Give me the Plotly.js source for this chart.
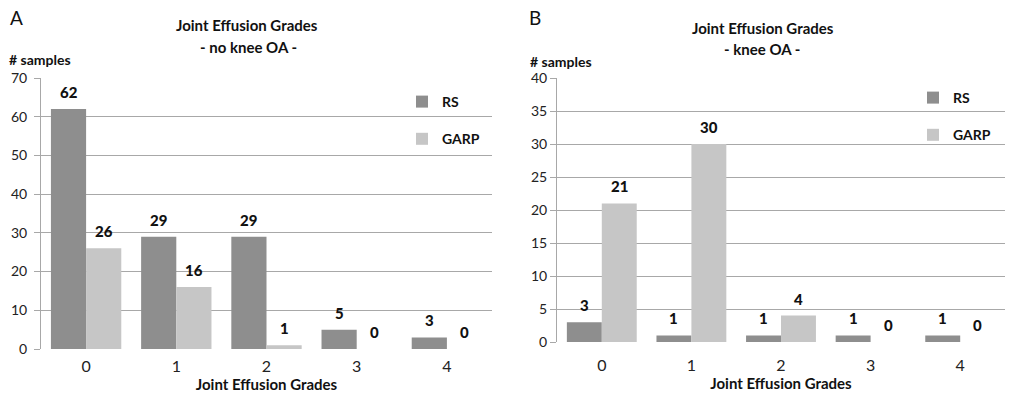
<!DOCTYPE html>
<html>
<head>
<meta charset="utf-8">
<script src="https://cdn.plot.ly/plotly-3.0.1.min.js"></script>
<style>html,body{margin:0;padding:0;background:#fff;}#chart{width:1013px;height:393px;}</style>
</head>
<body>
<div id="chart"></div>
<script>
// ---- data ----
const grades = [0, 1, 2, 3, 4];
const gradeLabels = ["0", "1", "2", "3", "4"];
const rsNoOA = [62, 29, 29, 5, 3];
const garpNoOA = [26, 16, 1, 0, 0];
const rsOA = [3, 1, 1, 1, 1];
const garpOA = [21, 30, 4, 0, 0];
const ticksA = [0, 10, 20, 30, 40, 50, 60, 70];
const ticksB = [0, 5, 10, 15, 20, 25, 30, 35, 40];

const RS_COLOR = "#8e8e8e";
const GARP_COLOR = "#c6c6c6";
const FONT = "Lato, 'Open Sans', sans-serif";
const BARGAP = 0.22;
const off = (1 - BARGAP) / 4;

const traces = [
  {type: "bar", name: "RS", x: grades, y: rsNoOA, xaxis: "x", yaxis: "y", marker: {color: RS_COLOR}, legend: "legend", legendgroup: "rsA", hoverinfo: "y"},
  {type: "bar", name: "GARP", x: grades, y: garpNoOA, xaxis: "x", yaxis: "y", marker: {color: GARP_COLOR}, legend: "legend", legendgroup: "garpA", hoverinfo: "y"},
  {type: "bar", name: "RS", x: grades, y: rsOA, xaxis: "x2", yaxis: "y2", marker: {color: RS_COLOR}, legend: "legend2", legendgroup: "rsB", hoverinfo: "y"},
  {type: "bar", name: "GARP", x: grades, y: garpOA, xaxis: "x2", yaxis: "y2", marker: {color: GARP_COLOR}, legend: "legend2", legendgroup: "garpB", hoverinfo: "y"}
];

const annotations = [];
function addValueLabels(vals, xref, yref, shift) {
  vals.forEach((v, i) => {
    annotations.push({
      x: grades[i] + shift, y: v, xref: xref, yref: yref,
      text: String(v), showarrow: false,
      yanchor: "bottom", yshift: 6,
      font: {family: FONT, size: 15, color: "#111", weight: 900}
    });
  });
}
addValueLabels(rsNoOA, "x", "y", -off);
addValueLabels(garpNoOA, "x", "y", off);
addValueLabels(rsOA, "x2", "y2", -off);
addValueLabels(garpOA, "x2", "y2", off);

function paperText(text, px, py, size, bold, anchor) {
  annotations.push({
    xref: "paper", yref: "paper", x: px / 1013, y: 1 - py / 393,
    xanchor: anchor || "center", yanchor: "middle",
    text: bold ? "<b>" + text + "</b>" : text, showarrow: false,
    font: {family: FONT, size: size, color: "#111"}
  });
}
paperText("A", 8, 17, 19, false, "left");
paperText("B", 527, 17, 19, false, "left");
paperText("Joint Effusion Grades", 247, 25, 15, true);
paperText("- no knee OA -", 248, 47, 15, true);
paperText("Joint Effusion Grades", 763, 28, 15, true);
paperText("- knee OA -", 762, 49, 15, true);
paperText("# samples", 7, 59, 14, true, "left");
paperText("# samples", 528, 62, 14, true, "left");

const axisCommon = {
  showgrid: false, zeroline: false, showline: false, ticks: "",
  tickfont: {family: FONT, size: 16, color: "#222"}
};
const yCommon = {
  showgrid: true, gridcolor: "#a8a8a8", gridwidth: 1, zeroline: false,
  showline: true, linecolor: "#a8a8a8", linewidth: 1,
  ticks: "outside", ticklen: 6, tickcolor: "#a8a8a8",
  tickfont: {family: FONT, size: 14, color: "#222"}
};

const layout = {
  width: 1013, height: 393,
  margin: {l: 0, r: 0, t: 0, b: 0},
  paper_bgcolor: "#fff", plot_bgcolor: "#fff",
  bargap: BARGAP, bargroupgap: 0, barmode: "group",
  showlegend: true,
  xaxis: Object.assign({}, axisCommon, {
    domain: [41 / 1013, 492 / 1013], range: [-0.5, 4.5],
    tickvals: grades, ticktext: gradeLabels, anchor: "y", ticklabelstandoff: 6,
    title: {text: "<b>Joint Effusion Grades</b>", font: {family: FONT, size: 15, color: "#111"}, standoff: 0}
  }),
  yaxis: Object.assign({}, yCommon, {
    domain: [1 - 349 / 393, 1 - 78 / 393], range: [0, 70],
    tickvals: ticksA, anchor: "x", ticklabelstandoff: 4
  }),
  xaxis2: Object.assign({}, axisCommon, {
    domain: [557 / 1013, 1005 / 1013], range: [-0.5, 4.5],
    tickvals: grades, ticktext: gradeLabels, anchor: "y2", ticklabelstandoff: 12,
    title: {text: "<b>Joint Effusion Grades</b>", font: {family: FONT, size: 15, color: "#111"}, standoff: 0}
  }),
  yaxis2: Object.assign({}, yCommon, {
    domain: [1 - 342 / 393, 1 - 78 / 393], range: [0, 40],
    tickvals: ticksB, anchor: "x2", ticklabelstandoff: 0
  }),
  legend: {
    x: 402 / 1013, y: 1 - 86 / 393, xanchor: "left", yanchor: "top",
    bgcolor: "rgba(0,0,0,0)", tracegroupgap: 16,
    font: {family: FONT, size: 14, color: "#111", weight: "bold"}
  },
  legend2: {
    x: 913 / 1013, y: 1 - 82 / 393, xanchor: "left", yanchor: "top",
    bgcolor: "rgba(0,0,0,0)", tracegroupgap: 16,
    font: {family: FONT, size: 14, color: "#111", weight: "bold"}
  },
  annotations: annotations
};

Plotly.newPlot("chart", traces, layout, {displayModeBar: false, staticPlot: true});
</script>
</body>
</html>
